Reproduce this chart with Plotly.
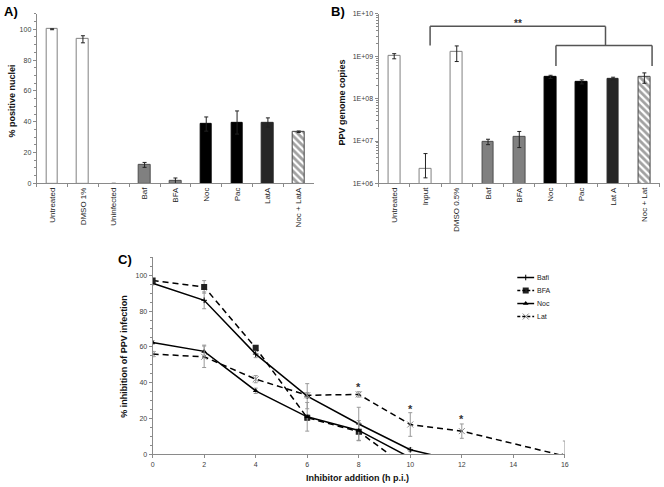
import plotly.graph_objects as go

W, H = 664, 487
FONT = "Liberation Sans, Arial, sans-serif"
TICK = "#404040"
AX = "#8a8a8a"

# ---- panel A: % positive nuclei
a_cats = ["Untreated", "DMSO 1%", "Uninfected", "Baf", "BFA", "Noc", "Pac", "LatA", "Noc + LatA"]
a_vals = [100, 93.5, 0, 12, 1.5, 38.5, 39.5, 39.5, 33.5]
a_err = [0.3, 2.3, 0, 1.6, 2.0, 4.6, 7.5, 3.0, 0.5]
a_fill = ["white", "white", "white", "#808080", "#808080", "black", "black", "#262626", "white"]
a_edge = ["#808080", "#808080", "#808080", "#4d4d4d", "#4d4d4d", "black", "black", "#262626", "#444444"]
a_edge_w = [1, 1, 0, 1, 1, 1, 1, 1, 1]
a_pat = ["", "", "", "", "", "", "", "", "\\"]

# ---- panel B: PPV genome copies (log)
b_cats = ["Untreated", "Input", "DMSO 0.5%", "Baf", "BFA", "Noc", "Pac", "Lat A", "Noc + Lat"]
b_vals = [1.0e9, 2.25e6, 1.27e9, 9.8e6, 1.22e7, 3.2e8, 2.5e8, 3.0e8, 3.2e8]
b_err_hi = [0.15e9, 2.8e6, 0.48e9, 1.2e6, 4.6e6, 0.35e8, 0.27e8, 0.2e8, 0.85e8]
b_err_lo = [0.13e9, 0.9e6, 0.52e9, 1.6e6, 5.2e6, 0.2e8, 0.28e8, 0.2e8, 0.9e8]
b_fill = ["white", "white", "white", "#808080", "#808080", "black", "black", "#262626", "white"]
b_edge = ["#808080", "#808080", "#808080", "#4d4d4d", "#4d4d4d", "black", "black", "#262626", "#444444"]
b_pat = ["", "", "", "", "", "", "", "", "\\"]
b_tickvals = [1e6, 1e7, 1e8, 1e9, 1e10]
b_ticktext = ["1E+06", "1E+07", "1E+08", "1E+09", "1E+10"]

# ---- panel C: % inhibition vs time of addition
bafi_x = [0, 2, 4, 6, 8, 10, 12]
bafi_y = [95.5, 86, 56, 32.5, 17, 2.6, -4.2]
bafi_e = [0.8, 4.7, 2, 7, 9.3, 1, 0]
bfa_x = [0, 2, 4, 6, 8, 10]
bfa_y = [97, 93.5, 59.5, 20.5, 12.7, -8.5]
bfa_e = [1, 3.5, 1.2, 1.5, 5, 0]
noc_x = [0, 2, 4, 6, 8, 10]
noc_y = [62.5, 57.5, 35.5, 21, 13.4, -1.8]
noc_e = [1, 3.5, 1.5, 8, 5.5, 0]
lat_x = [0, 2, 4, 6, 8, 10, 12, 16]
lat_y = [56, 54.5, 42, 33, 33.5, 16.7, 13, -0.9]
lat_e = [1.5, 6, 2, 1.5, 1.5, 6.6, 4, 8.4]
star_x = [8, 10, 12]
star_y = [37.5, 25.5, 19.5]


def px(x):
    return x / W


def py(y):
    return 1 - y / H


fig = go.Figure()

hatch = dict(fgcolor="black", bgcolor="white", size=5, solidity=0.55)

fig.add_trace(go.Bar(
    x=a_cats, y=a_vals, width=0.38, xaxis="x", yaxis="y", showlegend=False,
    marker=dict(color=a_fill, line=dict(color=a_edge, width=a_edge_w), pattern=dict(hatch, shape=a_pat)),
    error_y=dict(type="data", array=a_err, color="#222222", thickness=1, width=2),
))

fig.add_trace(go.Bar(
    x=b_cats, y=b_vals, width=0.38, xaxis="x2", yaxis="y2", showlegend=False,
    marker=dict(color=b_fill, line=dict(color=b_edge, width=1), pattern=dict(hatch, shape=b_pat)),
    error_y=dict(type="data", array=b_err_hi, arrayminus=b_err_lo, color="#222222", thickness=1, width=2),
))

series = [
    ("Bafi", bafi_x, bafi_y, bafi_e, "solid",
     dict(symbol="cross-thin-open", size=4, color="black", line=dict(width=1, color="black"))),
    ("BFA", bfa_x, bfa_y, bfa_e, "dash", dict(symbol="square", size=6, color="#222222")),
    ("Noc", noc_x, noc_y, noc_e, "solid", dict(symbol="triangle-up", size=5, color="black")),
    ("Lat", lat_x, lat_y, lat_e, "dash",
     dict(symbol="x-thin-open", size=6, color="#888888", line=dict(width=1, color="#888888"))),
]
for name, xs, ys, es, dash, mk in series:
    ls = dict(color="black", width=1.5, dash="solid" if dash == "solid" else "6px,4px")
    fig.add_trace(go.Scatter(
        x=xs, y=ys, name=name, mode="lines+markers", xaxis="x3", yaxis="y3", showlegend=False,
        line=ls, marker=mk, cliponaxis=True,
        error_y=dict(type="data", array=es, color="#999999", thickness=1, width=2),
    ))

# hand-built compact legend for panel C (on a hidden pixel-space overlay)
legend_shapes = []
legend_ann = []
for i, (name, xs, ys, es, dash, mk) in enumerate(series):
    ly = 277.5 + 13.2 * i
    legend_shapes.append(dict(type="line", xref="paper", yref="paper", x0=px(520), x1=px(537),
                              y0=py(ly), y1=py(ly),
                              line=dict(color="black", width=1.5, dash="solid" if dash == "solid" else "3px,2px")))
    fig.add_trace(go.Scatter(x=[528.5], y=[ly], mode="markers", marker=mk, xaxis="x4", yaxis="y4",
                             showlegend=False, hoverinfo="skip"))
    legend_ann.append(dict(text=name, x=px(538), y=py(ly), xref="paper", yref="paper", xanchor="left",
                           yanchor="middle", showarrow=False, font=dict(size=7, color="#222222")))

tickfont = dict(family=FONT, size=7, color=TICK)
cat_axis = dict(type="category", tickangle=-90, tickfont=dict(family=FONT, size=8, color="#222222"),
                showline=True, linecolor=AX, linewidth=1, ticks="outside", tickson="boundaries",
                ticklen=3, tickcolor=AX, showgrid=False, zeroline=False, fixedrange=True)
num_axis = dict(showline=True, linecolor=AX, linewidth=1, ticks="outside", ticklen=3, tickcolor=AX,
                tickfont=tickfont, showgrid=False, zeroline=False,
                minor=dict(ticks="outside", ticklen=2, tickcolor=AX, dtick=5))

fig.update_layout(
    width=W, height=H, margin=dict(l=0, r=0, t=0, b=0),
    paper_bgcolor="white", plot_bgcolor="rgba(0,0,0,0)",
    font=dict(family=FONT, color="#222222"),
    showlegend=False,
    bargap=0,
    xaxis=dict(cat_axis, domain=[px(35), px(315)], anchor="y"),
    yaxis=dict(num_axis, domain=[py(182), py(10)], range=[0, 110], tickvals=[0, 20, 40, 60, 80, 100], anchor="x"),
    xaxis2=dict(cat_axis, domain=[px(380), px(664)], anchor="y2"),
    yaxis2=dict(num_axis, type="log", domain=[py(182), py(10)], range=[6, 10], tickvals=b_tickvals,
                ticktext=b_ticktext, anchor="x2",
                minor=dict(ticks="outside", ticklen=2, tickcolor=AX, dtick="D1")),
    xaxis3=dict(num_axis, domain=[px(152), px(568)], range=[0, 16], tickvals=list(range(0, 17, 2)),
                anchor="y3", minor=dict(ticks="")),
    yaxis3=dict(num_axis, domain=[py(457), py(257)], range=[0, 110], tickvals=[0, 20, 40, 60, 80, 100],
                anchor="x3"),
    xaxis4=dict(domain=[0, 1], range=[0, W], visible=False, fixedrange=True, anchor="y4"),
    yaxis4=dict(domain=[0, 1], range=[H, 0], visible=False, fixedrange=True, anchor="x4"),
)

ann = list(legend_ann)
# panel letters
for txt, x, y in [("A)", 0, 8), ("B)", 330, 8), ("C)", 115, 259)]:
    ann.append(dict(text=f"<b>{txt}</b>", x=px(x), y=py(y), xref="paper", yref="paper",
                    xanchor="left", yanchor="middle", showarrow=False, font=dict(size=13, color="black")))
# axis titles
for txt, x, y in [("% positive nuclei", 10, 98), ("PPV genome copies", 343, 100),
                  ("% inhibition of PPV infection", 123, 357)]:
    ann.append(dict(text=f"<b>{txt}</b>", x=px(x), y=py(y), xref="paper", yref="paper", textangle=-90,
                    xanchor="center", yanchor="middle",
                    showarrow=False, font=dict(size=9, color="#111111")))
ann.append(dict(text="<b>Inhibitor addition (h p.i.)</b>", x=px(359), y=py(481), xref="paper", yref="paper",
                xanchor="center", yanchor="middle", showarrow=False, font=dict(size=9, color="#111111")))
# significance
ann.append(dict(text="<b>**</b>", x=px(521), y=py(20), xref="paper", yref="paper", showarrow=False,
                xanchor="center", yanchor="middle", font=dict(size=10, color="#333333")))
for sx, sy in zip(star_x, star_y):
    ann.append(dict(text="<b>*</b>", x=sx, y=sy, xref="x3", yref="y3", showarrow=False,
                    xanchor="center", yanchor="middle", font=dict(size=11, color="#333333")))
fig.update_layout(annotations=ann)

# brackets in panel B
br = dict(color="#555555", width=1.5)
lines = [
    (432, 22.7, 609, 22.7), (432, 22.7, 432, 42), (609, 22.7, 609, 42),
    (559, 42, 656, 42), (559, 42, 559, 63), (656, 42, 656, 63),
]
shapes = [dict(type="line", xref="paper", yref="paper", x0=px(x0), y0=py(y0),
               x1=px(x1), y1=py(y1), line=br) for x0, y0, x1, y1 in lines]
fig.update_layout(shapes=shapes + legend_shapes)

fig.write_html("out.html", config={"displayModeBar": False},
               post_script="document.body.style.margin='0px';")
